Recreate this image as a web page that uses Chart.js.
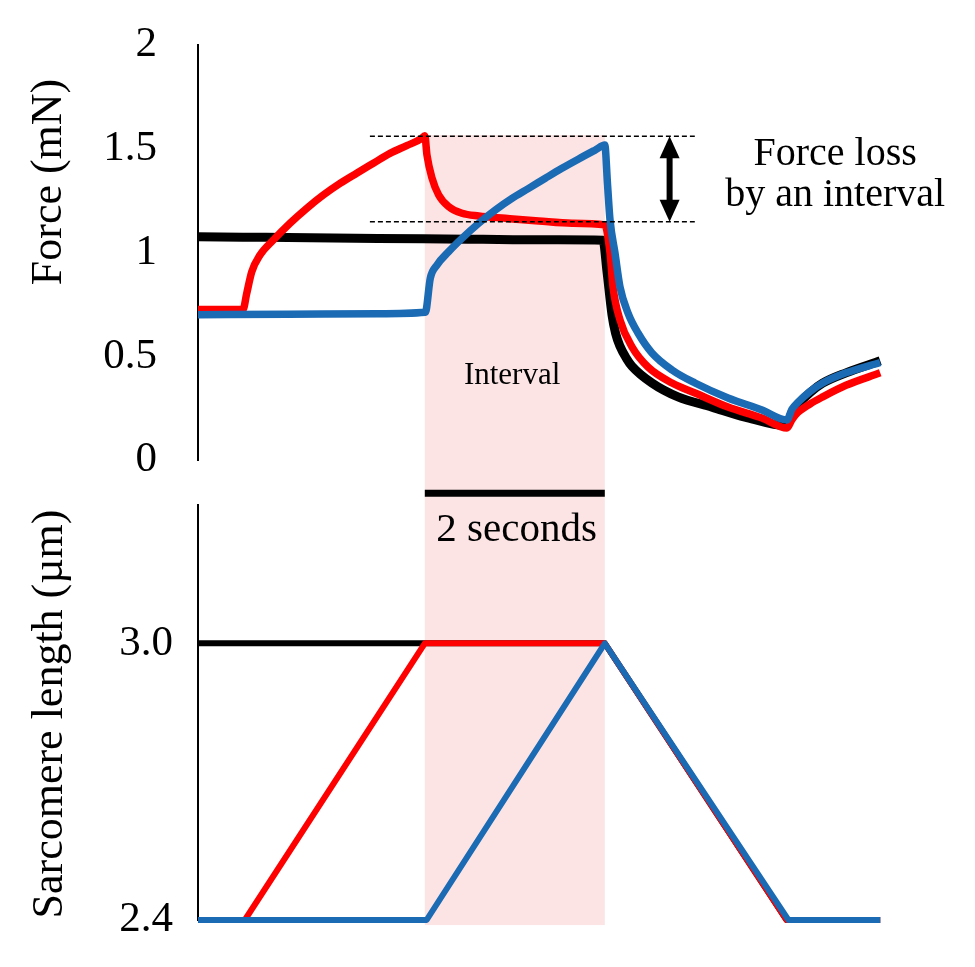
<!DOCTYPE html>
<html lang="en">
  <head>
    <meta charset="utf-8" />
    <style>
      body { margin: 0; background: #ffffff; }
      .wrapper { position: relative; width: 975px; height: 967px; }
      canvas { position: absolute; left: 0; }
      #forceChart { top: 0; }
      #lengthChart { top: 500px; }
    </style>
  </head>
  <body>
    <div class="wrapper">
      <canvas id="forceChart" width="975" height="500"></canvas>
      <canvas id="lengthChart" width="975" height="467"></canvas>
    </div>

    <script src="https://cdn.jsdelivr.net/npm/chart.js@4.4.1/dist/chart.umd.min.js"></script>
    <script>
      // time in seconds from the start of the record
      var forceTicks = [0, 0.5, 1, 1.5, 2];
      var forceTickLabels = ["0", "0.5", "1", "1.5", "2"];
      var lengthTicks = [2.4, 3.0];
      var lengthTickLabels = ["2.4", "3.0"];

      var forceTimeBlack = [0, 0.5, 1.0, 1.5, 2.0, 2.5, 3.0, 3.5, 4.0, 4.5, 4.544, 4.6, 4.64, 4.689, 4.76, 4.822, 5.044, 5.333, 5.711, 6.078, 6.544, 6.6, 6.66, 6.8, 6.94, 7.2, 7.58];
      var forceBlack = [1.076, 1.074, 1.072, 1.07, 1.068, 1.066, 1.064, 1.062, 1.061, 1.059, 0.91, 0.7, 0.61, 0.548, 0.49, 0.452, 0.371, 0.304, 0.255, 0.207, 0.165, 0.23, 0.265, 0.325, 0.37, 0.42, 0.478];

      var forceTimeRed = [0, 0.5, 0.54, 0.597, 0.689, 0.837, 1.022, 1.208, 1.392, 1.578, 1.763, 1.948, 2.133, 2.319, 2.486, 2.52, 2.544, 2.6, 2.674, 2.785, 2.933, 3.119, 3.415, 3.785, 4.156, 4.52, 4.578, 4.611, 4.689, 4.822, 5.0, 5.267, 5.522, 5.889, 6.267, 6.544, 6.6, 6.66, 6.8, 6.94, 7.2, 7.58];
      var forceRed = [0.725, 0.725, 0.8, 0.907, 0.988, 1.06, 1.141, 1.213, 1.277, 1.333, 1.382, 1.43, 1.478, 1.515, 1.55, 1.563, 1.47, 1.359, 1.277, 1.221, 1.189, 1.176, 1.165, 1.152, 1.141, 1.133, 0.998, 0.834, 0.675, 0.545, 0.448, 0.371, 0.323, 0.255, 0.202, 0.154, 0.195, 0.227, 0.27, 0.304, 0.36, 0.42];

      var forceTimeBlue = [0, 1.0, 2.0, 2.526, 2.581, 2.656, 2.785, 2.933, 3.119, 3.304, 3.489, 3.674, 3.859, 4.044, 4.23, 4.415, 4.52, 4.55, 4.578, 4.633, 4.689, 4.778, 4.889, 5.044, 5.267, 5.522, 5.889, 6.267, 6.544, 6.6, 6.66, 6.8, 6.94, 7.2, 7.58];
      var forceBlue = [0.7, 0.702, 0.705, 0.712, 0.876, 0.94, 1.004, 1.068, 1.141, 1.205, 1.261, 1.309, 1.358, 1.406, 1.451, 1.494, 1.518, 1.33, 1.157, 0.998, 0.834, 0.708, 0.612, 0.516, 0.434, 0.371, 0.299, 0.241, 0.193, 0.245, 0.275, 0.33, 0.371, 0.42, 0.47];

      var lengthTimeBlack = [0, 4.52, 6.54, 7.58];
      var lengthBlack = [3.0, 3.0, 2.4, 2.4];
      var lengthTimeRed = [0, 0.52, 2.52, 4.52, 6.54, 7.58];
      var lengthRed = [2.4, 2.4, 3.0, 3.0, 2.4, 2.4];
      var lengthTimeBlue = [0, 2.54, 4.52, 6.56, 7.58];
      var lengthBlue = [2.4, 2.4, 3.0, 2.4, 2.4];

      // interval window and force-loss markers
      var intervalStart = 2.52;
      var intervalEnd = 4.52;
      var forceLossLevels = [1.56, 1.148];
      var forceLossFrom = 1.91;
      var forceLossTo = 5.52;
      var arrowTime = 5.24;

      var SERIF = '"Liberation Serif", "Times New Roman", serif';
      var PINK = "#fce4e4";
      var RED = "#ff0000";
      var BLUE = "#1b6ab4";
      var BLACK = "#000000";

      function pairs(xs, ys) {
        return xs.map(function (t, i) {
          return { x: t, y: ys[i] };
        });
      }

      function trace(label, xs, ys, color, width, smooth) {
        var ds = {
          label: label,
          data: pairs(xs, ys),
          borderColor: color,
          backgroundColor: color,
          borderWidth: width,
          pointRadius: 0,
          tension: 0,
          borderCapStyle: "butt",
          borderJoinStyle: "round",
          clip: false,
        };
        if (smooth) ds.cubicInterpolationMode = "monotone";
        return ds;
      }

      function xScale() {
        return {
          type: "linear",
          min: 0,
          max: 7.6,
          display: false,
        };
      }

      function yScale(min, max, ticks, labels, pad) {
        return {
          type: "linear",
          min: min,
          max: max,
          grid: { display: false, drawTicks: false },
          border: { display: true, color: BLACK, width: 2 },
          ticks: {
            color: BLACK,
            padding: pad,
            font: { family: SERIF, size: 43 },
            callback: function (value) {
              var i = ticks.indexOf(value);
              return i >= 0 ? labels[i] : "";
            },
          },
          afterBuildTicks: function (scale) {
            scale.ticks = ticks.map(function (v) {
              return { value: v };
            });
          },
          afterFit: function (scale) {
            scale.width = 198;
            scale.paddingTop = 0;
            scale.paddingBottom = 0;
          },
        };
      }

      function drawRotated(ctx, text, cx, cy, size) {
        ctx.save();
        ctx.translate(cx, cy);
        ctx.rotate(-Math.PI / 2);
        ctx.fillStyle = BLACK;
        ctx.font = size + "px " + SERIF;
        ctx.textAlign = "center";
        ctx.textBaseline = "middle";
        ctx.fillText(text, 0, 0);
        ctx.restore();
      }

      function drawText(ctx, text, cx, cy, size) {
        ctx.save();
        ctx.fillStyle = BLACK;
        ctx.font = size + "px " + SERIF;
        ctx.textAlign = "center";
        ctx.textBaseline = "middle";
        ctx.fillText(text, cx, cy);
        ctx.restore();
      }

      var forceDecor = {
        id: "forceDecor",
        beforeDatasetsDraw: function (chart) {
          var ctx = chart.ctx;
          var x = chart.scales.x;
          var y = chart.scales.y;
          var x0 = x.getPixelForValue(intervalStart);
          var x1 = x.getPixelForValue(intervalEnd);
          var yTop = y.getPixelForValue(1.566);
          ctx.save();
          ctx.fillStyle = PINK;
          ctx.fillRect(x0, yTop, x1 - x0, chart.height - yTop);
          ctx.restore();
        },
        afterDatasetsDraw: function (chart) {
          var ctx = chart.ctx;
          var x = chart.scales.x;
          var y = chart.scales.y;

          // dashed force levels
          ctx.save();
          ctx.strokeStyle = BLACK;
          ctx.lineWidth = 1.6;
          ctx.setLineDash([5, 3]);
          forceLossLevels.forEach(function (lv) {
            var py = y.getPixelForValue(lv);
            ctx.beginPath();
            ctx.moveTo(x.getPixelForValue(forceLossFrom), py);
            ctx.lineTo(x.getPixelForValue(forceLossTo), py);
            ctx.stroke();
          });
          ctx.restore();

          // double arrow
          var ax = x.getPixelForValue(arrowTime);
          var yA = y.getPixelForValue(forceLossLevels[0]);
          var yB = y.getPixelForValue(forceLossLevels[1]);
          var head = 22;
          var half = 10;
          ctx.save();
          ctx.fillStyle = BLACK;
          ctx.fillRect(ax - 3, yA + head - 2, 6, yB - yA - 2 * head + 4);
          ctx.beginPath();
          ctx.moveTo(ax, yA);
          ctx.lineTo(ax + half, yA + head);
          ctx.lineTo(ax - half, yA + head);
          ctx.closePath();
          ctx.fill();
          ctx.beginPath();
          ctx.moveTo(ax, yB);
          ctx.lineTo(ax + half, yB - head);
          ctx.lineTo(ax - half, yB - head);
          ctx.closePath();
          ctx.fill();
          ctx.restore();

          drawText(ctx, "Force loss", x.getPixelForValue(7.08), y.getPixelForValue(1.47), 40);
          drawText(ctx, "by an interval", x.getPixelForValue(7.08), y.getPixelForValue(1.275), 40);
          drawText(ctx, "Interval", x.getPixelForValue(3.49), y.getPixelForValue(0.405), 31);

          // 2 s scale bar
          ctx.save();
          ctx.strokeStyle = BLACK;
          ctx.lineWidth = 7;
          var by = y.getPixelForValue(-0.16);
          ctx.beginPath();
          ctx.moveTo(x.getPixelForValue(intervalStart), by);
          ctx.lineTo(x.getPixelForValue(intervalEnd), by);
          ctx.stroke();
          ctx.restore();
        },
        afterDraw: function (chart) {
          drawRotated(chart.ctx, "Force (mN)", 49, 182, 44);
        },
      };

      var lengthDecor = {
        id: "lengthDecor",
        beforeDatasetsDraw: function (chart) {
          var ctx = chart.ctx;
          var x = chart.scales.x;
          var y = chart.scales.y;
          var x0 = x.getPixelForValue(intervalStart);
          var x1 = x.getPixelForValue(intervalEnd);
          var yBot = y.getPixelForValue(2.389);
          ctx.save();
          ctx.fillStyle = PINK;
          ctx.fillRect(x0, 0, x1 - x0, yBot);
          ctx.restore();
        },
        afterDatasetsDraw: function (chart) {
          var x = chart.scales.x;
          var y = chart.scales.y;
          drawText(chart.ctx, "2 seconds", x.getPixelForValue(3.54), y.getPixelForValue(3.245), 41);
        },
        afterDraw: function (chart) {
          drawRotated(chart.ctx, "Sarcomere length (\u00b5m)", 50, 214, 44);
        },
      };

      new Chart(document.getElementById("forceChart"), {
        type: "line",
        data: {
          datasets: [
            trace("Blue", forceTimeBlue, forceBlue, BLUE, 7.5, true),
            trace("Red", forceTimeRed, forceRed, RED, 7.5, true),
            trace("Black", forceTimeBlack, forceBlack, BLACK, 9, true),
          ],
        },
        options: {
          responsive: false,
          animation: false,
          layout: { padding: { top: 45, bottom: 40, left: 0, right: 93 } },
          plugins: { legend: { display: false }, tooltip: { enabled: false } },
          scales: {
            x: xScale(),
            y: yScale(0, 2, forceTicks, forceTickLabels, 41),
          },
        },
        plugins: [forceDecor],
      });

      new Chart(document.getElementById("lengthChart"), {
        type: "line",
        data: {
          datasets: [
            trace("Blue", lengthTimeBlue, lengthBlue, BLUE, 6, false),
            trace("Red", lengthTimeRed, lengthRed, RED, 6, false),
            trace("Black", lengthTimeBlack, lengthBlack, BLACK, 6, false),
          ],
        },
        options: {
          responsive: false,
          animation: false,
          layout: { padding: { top: 5, bottom: 47, left: 0, right: 93 } },
          plugins: { legend: { display: false }, tooltip: { enabled: false } },
          scales: {
            x: xScale(),
            y: yScale(2.4, 3.3, lengthTicks, lengthTickLabels, 25),
          },
        },
        plugins: [lengthDecor],
      });
    </script>
  </body>
</html>
